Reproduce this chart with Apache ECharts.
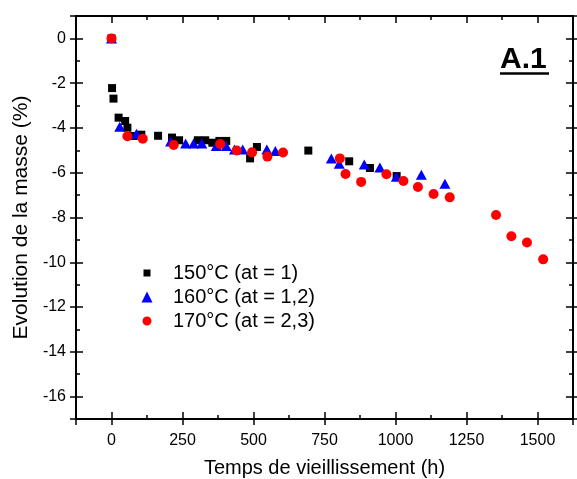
<!DOCTYPE html>
<html>
<head>
<meta charset="utf-8">
<script src="https://cdn.jsdelivr.net/npm/echarts@6/dist/echarts.min.js"></script>
<style>
html,body{margin:0;padding:0;background:#fff;}
#chart{width:577px;height:479px;}
</style>
</head>
<body>
<div id="chart"></div>
<script>
// ---- data ----
var seriesNames = ['150°C (at = 1)', '160°C (at = 1,2)', '170°C (at = 2,3)'];

var t150 = [0, 2, 7, 25, 48, 56, 78, 105, 164, 213, 238, 304, 330, 355, 380, 404, 488, 512, 693, 837, 910, 1004];
var m150 = [0, -2.22, -2.69, -3.54, -3.69, -3.99, -4.36, -4.30, -4.35, -4.43, -4.55, -4.55, -4.55, -4.66, -4.58, -4.58, -5.36, -4.85, -5.01, -5.49, -5.79, -6.15];

var t160 = [0, 29, 88, 208, 261, 289, 318, 369, 404, 433, 462, 547, 577, 774, 802, 890, 945, 1003, 1091, 1174];
var m160 = [0, -3.95, -4.26, -4.61, -4.70, -4.69, -4.70, -4.81, -4.81, -4.96, -4.96, -4.96, -5.03, -5.37, -5.60, -5.63, -5.77, -6.18, -6.09, -6.49];

var t170 = [0, 56, 110, 219, 383, 441, 495, 549, 604, 804, 824, 879, 968, 1028, 1079, 1134, 1191, 1354, 1408, 1463, 1520];
var m170 = [0, -4.37, -4.48, -4.76, -4.72, -5.01, -5.09, -5.28, -5.10, -5.36, -6.06, -6.41, -6.07, -6.37, -6.64, -6.95, -7.10, -7.89, -8.84, -9.12, -9.87];

var xMin = -125, xMax = 1625, xMajor = 250, xMinor = 125;
var yMin = -17, yMax = 1, yMajor = 2, yMinor = 1;

var panelLabel = 'A.1';
var xTitle = 'Temps de vieillissement (h)';
var yTitle = 'Evolution de la masse (%)';

function zip(a, b) { return a.map(function (v, i) { return [v, b[i]]; }); }

// ---- chart ----
var FONT = '"Liberation Sans", Arial, sans-serif';
var chart = echarts.init(document.getElementById('chart'), null, {renderer: 'canvas'});

function plain(v) { return String(v); }

function majorX(pos, withLine, inside, len, labels) {
  return {
    type: 'value', position: pos, min: xMin, max: xMax,
    minInterval: xMajor, maxInterval: xMajor,
    axisLine: {show: withLine, onZero: false, lineStyle: {color: '#000', width: 2}},
    axisTick: {show: true, inside: inside, length: len, lineStyle: {color: '#000', width: 1.5}},
    axisLabel: {show: labels, color: '#000', fontFamily: FONT, fontSize: 16, margin: 14,
                showMinLabel: false, showMaxLabel: false, formatter: plain},
    splitLine: {show: false}
  };
}
function minorX(pos) {
  return {
    type: 'value', position: pos, min: xMin, max: xMax, interval: xMinor,
    axisLine: {show: false, onZero: false},
    axisTick: {show: true, inside: true, length: 4, lineStyle: {color: '#000', width: 1.5}},
    axisLabel: {show: false}, splitLine: {show: false}
  };
}
function majorY(pos, withLine, inside, len, labels) {
  return {
    type: 'value', position: pos, min: yMin, max: yMax,
    minInterval: yMajor, maxInterval: yMajor,
    axisLine: {show: withLine, onZero: false, lineStyle: {color: '#000', width: 2}},
    axisTick: {show: true, inside: inside, length: len, lineStyle: {color: '#000', width: 1.5}},
    axisLabel: {show: labels, color: '#000', fontFamily: FONT, fontSize: 16, margin: 10,
                showMinLabel: false, showMaxLabel: false, formatter: plain},
    splitLine: {show: false}
  };
}
function minorY(pos) {
  return {
    type: 'value', position: pos, min: yMin, max: yMax, interval: yMinor,
    axisLine: {show: false, onZero: false},
    axisTick: {show: true, inside: true, length: 4, lineStyle: {color: '#000', width: 1.5}},
    axisLabel: {show: false}, splitLine: {show: false}
  };
}

var xb = majorX('bottom', true, true, 7, true);
xb.name = xTitle; xb.nameLocation = 'middle'; xb.nameGap = 39;
xb.nameTextStyle = {color: '#000', fontFamily: FONT, fontSize: 20};

var yl = majorY('left', true, true, 7, true);
yl.name = yTitle; yl.nameLocation = 'middle'; yl.nameGap = 41;
yl.nameTextStyle = {color: '#000', fontFamily: FONT, fontSize: 21};

var option = {
  backgroundColor: '#fff',
  animation: false,
  grid: {left: 76, right: 4, top: 16, bottom: 60, containLabel: false, outerBoundsMode: 'none'},
  xAxis: [
    xb,
    majorX('bottom', false, false, 6, false),
    minorX('bottom'),
    majorX('top', true, true, 7, false),
    minorX('top')
  ],
  yAxis: [
    yl,
    majorY('left', false, false, 6, false),
    minorY('left'),
    majorY('right', true, true, 7, false),
    majorY('right', false, false, 6, false),
    minorY('right')
  ],
  legend: {
    orient: 'vertical', left: 139.5, top: 263, padding: 0, itemWidth: 11, itemHeight: 11, itemGap: 4,
    selectedMode: false,
    textStyle: {color: '#000', fontFamily: FONT, fontSize: 20, padding: [0, 0, 0, 15.5]},
    data: [
      {name: seriesNames[0], itemStyle: {borderColor: '#fff', borderWidth: 4}},
      {name: seriesNames[1]},
      {name: seriesNames[2], itemStyle: {borderColor: '#fff', borderWidth: 2}}
    ]
  },
  graphic: [
    {type: 'text', left: 500, top: 45, z: 10,
     style: {text: panelLabel, fill: '#000', font: 'bold 30px ' + FONT}},
    {type: 'line', z: 10, shape: {x1: 500, y1: 73.5, x2: 549, y2: 73.5},
     style: {stroke: '#000', lineWidth: 2.5}}
  ],
  series: [
    {name: seriesNames[0], type: 'scatter', symbol: 'rect', symbolSize: 8,
     itemStyle: {color: '#000000', opacity: 1}, data: zip(t150, m150)},
    {name: seriesNames[1], type: 'scatter', symbol: 'triangle', symbolSize: [11, 10],
     itemStyle: {color: '#0000ff', opacity: 1}, data: zip(t160, m160)},
    {name: seriesNames[2], type: 'scatter', symbol: 'circle', symbolSize: 10,
     itemStyle: {color: '#ff0000', opacity: 1}, data: zip(t170, m170)}
  ]
};
chart.setOption(option);
</script>
</body>
</html>
